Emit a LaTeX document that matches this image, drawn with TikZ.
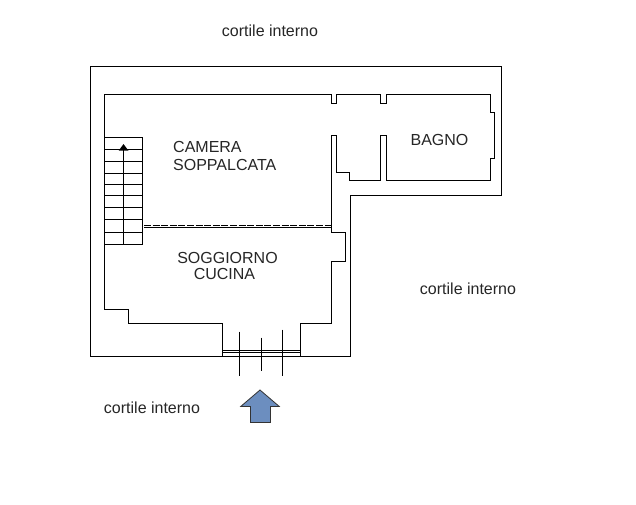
\documentclass[tikz,border=0pt]{standalone}
\usepackage{fontspec}
\setmainfont{Liberation Sans}
\definecolor{arrowblue}{HTML}{6C8EBF}
\tikzset{
  wall/.style={draw=black,line width=1pt,line join=miter},
  thin wall/.style={draw=black,line width=0.9pt},
  lbl/.style={inner sep=0pt,text=black!85,font=\fontsize{16}{16}\selectfont,align=center},
  lblleft/.style={lbl,align=left,anchor=west},
}
\begin{document}
\begin{tikzpicture}[x=1pt,y=-1pt]
\useasboundingbox (0,0) rectangle (636,504);
\fill[white] (0,0) rectangle (636,504);
% outer boundary
\draw[wall] (90.5,66.5) -- (501.5,66.5) -- (501.5,195.5) -- (350.5,195.5) -- (350.5,356.5) -- (90.5,356.5) -- cycle;
% inner rooms
\draw[wall] (222.5,356.5) -- (222.5,323.5) -- (128.5,323.5) -- (128.5,309.5) -- (104.5,309.5) -- (104.5,94.5)
  -- (331.5,94.5) -- (331.5,103.5) -- (336.5,103.5) -- (336.5,94.5)
  -- (380.5,94.5) -- (380.5,103.5) -- (386.5,103.5) -- (386.5,94.5)
  -- (490.5,94.5) -- (490.5,112.5) -- (494.5,112.5) -- (494.5,158.5) -- (490.5,158.5) -- (490.5,180.5)
  -- (386.5,180.5) -- (386.5,135.5) -- (380.5,135.5) -- (380.5,180.5)
  -- (349.5,180.5) -- (349.5,172.5) -- (336.5,172.5) -- (336.5,135.5) -- (331.5,135.5)
  -- (331.5,232.5) -- (345.5,232.5) -- (345.5,261.5) -- (331.5,261.5) -- (331.5,323.5) -- (300.5,323.5) -- (300.5,356.5);
% stairs
\draw[thin wall] (104.5,137.5) rectangle (142.5,244.5);
\foreach \yy in {149.5,161.5,173.5,184.5,195.5,207.5,219.5,232.5}
  \draw[thin wall] (104.5,\yy) -- (142.5,\yy);
\draw[thin wall] (123.5,150) -- (123.5,244.5);
\fill[black] (123.5,144) -- (128.5,150.7) -- (118.7,150.7) -- cycle;
% mezzanine edge
\draw[thin wall,dash pattern=on 7pt off 1.6pt] (144,225.5) -- (331,225.5);
\draw[thin wall] (144,227.5) -- (331,227.5);
% entrance
\draw[thin wall] (222.5,350.5) -- (300.5,350.5);
\draw[thin wall] (222.5,352.5) -- (300.5,352.5);
\draw[thin wall] (239.5,331.5) -- (239.5,375.5);
\draw[thin wall] (261.5,337.5) -- (261.5,370.5);
\draw[thin wall] (282.5,329.5) -- (282.5,375.5);
% arrow
\draw[draw=black!80,line width=0.8pt,fill=arrowblue] (260,390) -- (279.3,406.5) -- (270.5,406.5) -- (270.5,422.5) -- (250.5,422.5) -- (250.5,406.5) -- (240.7,406.5) -- cycle;
% labels
\node[lblleft] (camera) at (173,146.5) {CAMERA};
\node[lblleft] (soppalcata) at (173,164.5) {SOPPALCATA};
\node[lbl] (bagno) at (439.5,139.5) {BAGNO};
\node[lbl] (soggiorno) at (227.5,258) {SOGGIORNO};
\node[lbl] (cucina) at (224.5,273.5) {CUCINA};
\node[lbl] (c1) at (270,30.5) {cortile interno};
\node[lbl] (c2) at (468,288.5) {cortile interno};
\node[lbl] (c3) at (152,407.5) {cortile interno};
\end{tikzpicture}
\end{document}
